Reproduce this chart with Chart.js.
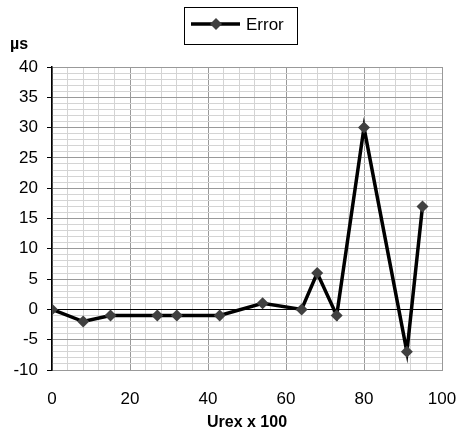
<!DOCTYPE html>
<html>
<head>
<meta charset="utf-8">
<script src="https://cdn.jsdelivr.net/npm/chart.js@4/dist/chart.umd.min.js"></script>
<style>
  html, body { margin: 0; padding: 0; background: #fff; }
</style>
</head>
<body>
<canvas id="grafico" width="459" height="432"></canvas>
<script>
const urex = [0, 8, 15, 27, 32, 43, 54, 64, 68, 73, 80, 91, 95];
const errorUs = [0, -2, -1, -1, -1, -1, 1, 0, 6, -1, 30, -7, 17];
const seriesName = "Error";
const xTitle = "Urex x 100";
const yUnit = "µs";

const FONT = "Arial, 'Liberation Sans', sans-serif";

// legend box + axis captions drawn on top of the chart
const extras = {
  id: "extras",
  afterDraw(chart) {
    const ctx = chart.ctx;
    ctx.save();
    // legend
    ctx.strokeStyle = "#000";
    ctx.lineWidth = 1;
    ctx.strokeRect(184.5, 7.5, 113, 37);
    ctx.lineWidth = 3.5;
    ctx.beginPath();
    ctx.moveTo(191, 24);
    ctx.lineTo(240, 24);
    ctx.stroke();
    ctx.fillStyle = "#404040";
    ctx.beginPath();
    ctx.moveTo(216, 18);
    ctx.lineTo(222, 24);
    ctx.lineTo(216, 30);
    ctx.lineTo(210, 24);
    ctx.closePath();
    ctx.fill();
    ctx.fillStyle = "#000";
    ctx.font = "17px " + FONT;
    ctx.textBaseline = "middle";
    ctx.textAlign = "left";
    ctx.fillText(seriesName, 246, 25);
    // unit label above y axis
    ctx.font = "bold 16px " + FONT;
    ctx.fillText(yUnit, 10, 45);
    // x axis title
    ctx.textAlign = "center";
    ctx.fillText(xTitle, 247, 423);
    ctx.restore();
  }
};

new Chart(document.getElementById("grafico").getContext("2d"), {
  type: "scatter",
  data: {
    datasets: [
      {
        label: seriesName,
        data: urex.map((x, i) => ({ x: x, y: errorUs[i] })),
        showLine: true,
        borderColor: "#000",
        borderWidth: 3.5,
        tension: 0,
        pointStyle: "rectRot",
        pointRadius: 6,
        pointHoverRadius: 6,
        pointBackgroundColor: "#404040",
        pointBorderColor: "#404040",
        pointBorderWidth: 0,
      },
    ],
  },
  options: {
    responsive: false,
    animation: false,
    layout: { padding: { top: 67, right: 17, left: 0, bottom: 0 } },
    plugins: {
      legend: { display: false },
      tooltip: { enabled: false },
    },
    scales: {
      x: {
        type: "linear",
        min: 0,
        max: 100,
        afterFit: (s) => {
          s.height = 62;
          s.paddingLeft = 0;
          s.paddingRight = 0;
        },
        ticks: {
          stepSize: 4,
          autoSkip: false,
          maxRotation: 0,
          padding: 19,
          color: "#000",
          font: { family: FONT, size: 17 },
          callback: (v) => (v % 20 === 0 ? v : ""),
        },
        grid: {
          drawTicks: false,
          color: (c) => (c.tick.value % 20 === 0 ? "#999" : "#d4d4d4"),
          lineWidth: 1,
        },
        border: { color: "#999", width: 1 },
      },
      y: {
        min: -10,
        max: 40,
        afterFit: (s) => {
          s.width = 52;
          s.paddingTop = 0;
          s.paddingBottom = 0;
        },
        ticks: {
          stepSize: 1,
          autoSkip: false,
          padding: 9,
          color: "#000",
          font: { family: FONT, size: 17 },
          callback: (v) => (v % 5 === 0 ? v : ""),
        },
        grid: {
          tickLength: 5,
          tickColor: (c) => (c.tick.value % 5 === 0 ? "#000" : "rgba(0,0,0,0)"),
          color: (c) => {
            if (c.tick.value === 0) return "#000";
            return c.tick.value % 5 === 0 ? "#999" : "#d4d4d4";
          },
          lineWidth: 1,
        },
        border: { color: "#000", width: 1.5 },
      },
    },
  },
  plugins: [extras],
});
</script>
</body>
</html>
